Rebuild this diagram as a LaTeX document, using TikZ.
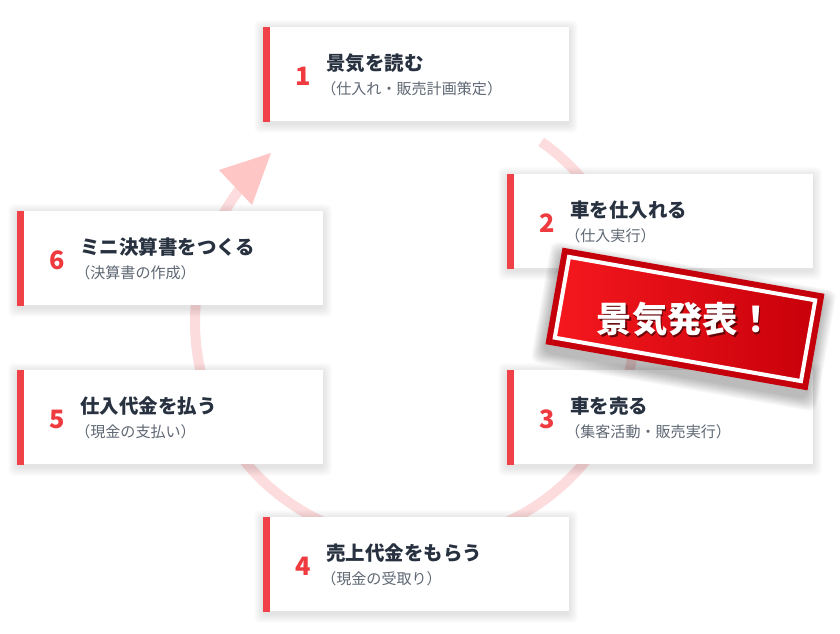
\documentclass[tikz,border=0pt]{standalone}
\usepackage{fontspec}
\setmainfont{Noto Sans CJK JP}
\definecolor{barred}{HTML}{EF4147}
\definecolor{numred}{HTML}{EF3B40}
\definecolor{ttlcol}{HTML}{27313F}
\definecolor{subcol}{HTML}{5E6773}
\definecolor{ringcol}{HTML}{FCDCDD}
\definecolor{ringhead}{HTML}{FFC6C6}
\definecolor{stampdark}{HTML}{C5000B}
\definecolor{stampA}{HTML}{F5181E}
\definecolor{stampB}{HTML}{C8000A}
\newcommand\mkcard[6]{%
  \foreach \i in {1,...,9}{
    \fill[black, opacity=0.011, rounded corners=4pt] (#2-\i,#3-\i+2) rectangle (#2+306+\i,#3+94+\i+3);
  }
  \node[card] (#1) at (#2,#3) {};
  \fill[barred] (#1.north west) rectangle ([xshift=5.25pt]#1.south west);
  \node[numtxt] (#1n) at (#2+40,#3+49) {#4};
  \node[ttltxt] (#1t) at (#2+63,#3+36.5) {#5};
  \node[subtxt] (#1s) at (#2+58,#3+62) {#6};
}
\begin{document}
\begin{tikzpicture}[x=0.75pt,y=-0.75pt,
  card/.style={rectangle, fill=white, minimum width=229.5pt, minimum height=70.5pt,
    inner sep=0pt, anchor=north west},
  numtxt/.style={font=\fontsize{19}{19}\selectfont\bfseries, text=numred, anchor=center, inner sep=0pt},
  ttltxt/.style={font=\fontsize{14.6}{16}\selectfont\bfseries, text=ttlcol, anchor=west, inner sep=0pt},
  subtxt/.style={font=\fontsize{11.3}{13}\selectfont, text=subcol, anchor=west, inner sep=0pt},
  stamptxt/.style={font=\fontsize{26.5}{27}\selectfont\bfseries, inner sep=0pt},
]
\useasboundingbox[fill=white] (0,0) rectangle (840,633);
% ring
\draw[ringcol, line width=7.5pt] plot[smooth, domain=-218:55, samples=140]
  ({415+220*cos(\x)},{322-220*sin(\x)});
\fill[ringhead] (219,170) -- (271,153) -- (252,205) -- cycle;
% cards
\mkcard{c1}{263}{27}{1}{景気を読む}{（仕入れ・販売計画策定）}
\mkcard{c2}{507}{174}{2}{車を仕入れる}{（仕入実行）}
\mkcard{c3}{507}{370}{3}{車を売る}{（集客活動・販売実行）}
\mkcard{c4}{263}{517}{4}{売上代金をもらう}{（現金の受取り）}
\mkcard{c5}{17}{370}{5}{仕入代金を払う}{（現金の支払い）}
\mkcard{c6}{17}{211}{6}{ミニ決算書をつくる}{（決算書の作成）}
% stamp
\begin{scope}[shift={(685,319)}, rotate=-10]
  \foreach \i in {1,...,12}{
    \fill[black, opacity=0.022, rounded corners=6pt] (-133-\i,-49-\i+7) rectangle (133+\i,49+\i+8);
  }
  \fill[stampdark] (-133,-49) rectangle (133,49);
  \shadedraw[left color=stampA, right color=stampB, draw=white, line width=3pt]
    (-125,-41) rectangle (125,41);
  \node[stamptxt, text=black, opacity=0.55] (stampsh) at (2,2.5) {景気発表！};
  \node[stamptxt, text=white] (stamp) at (0,0) {景気発表！};
\end{scope}
\end{tikzpicture}
\end{document}
